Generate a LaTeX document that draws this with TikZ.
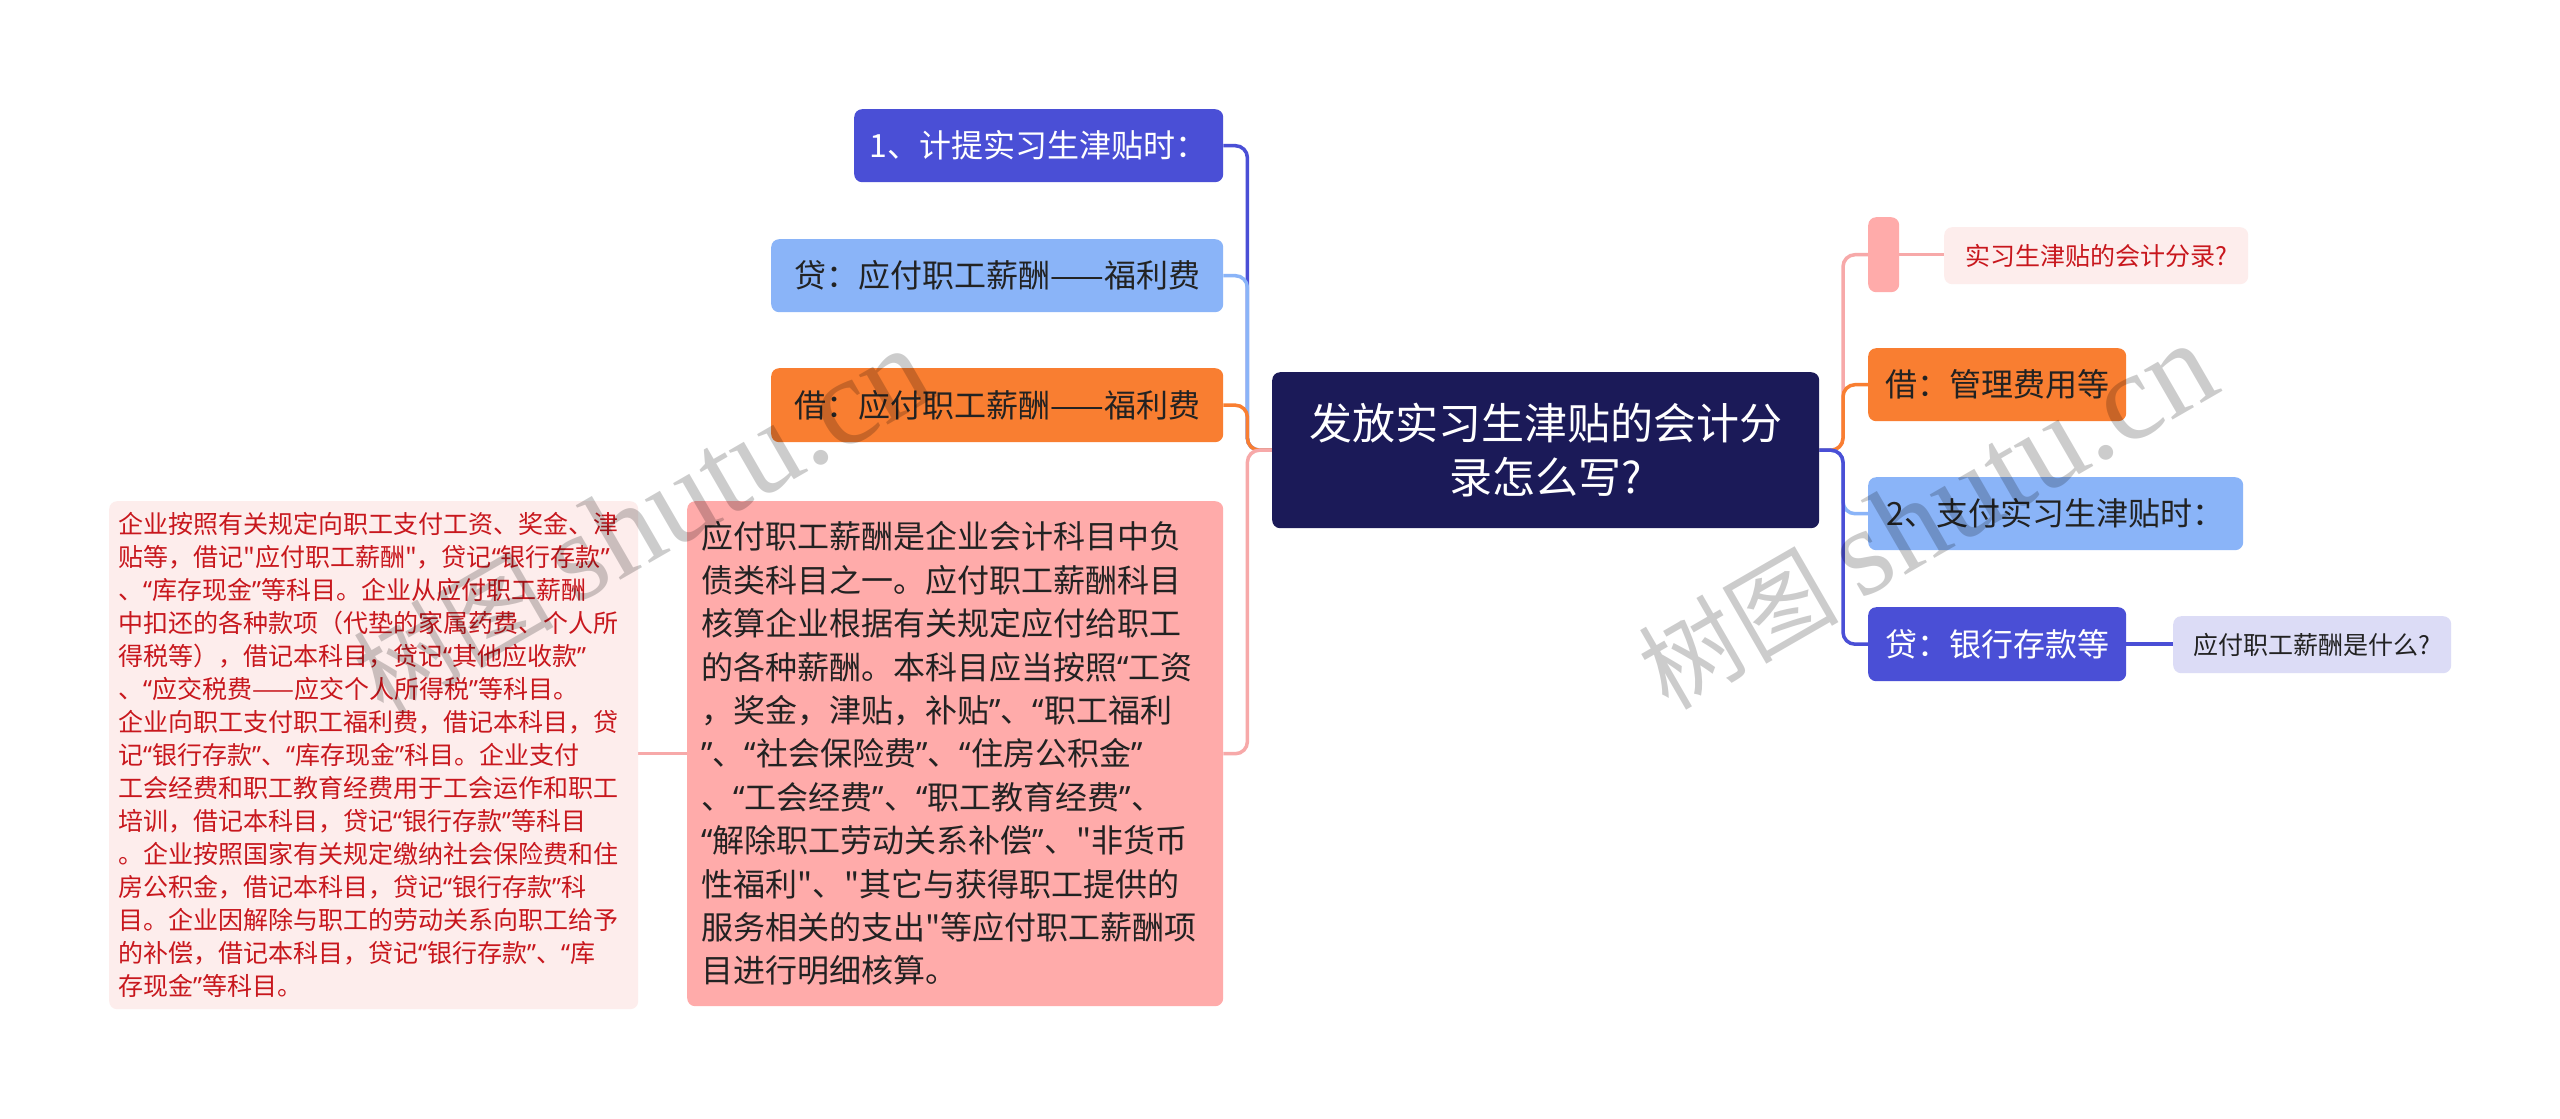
\documentclass[tikz,border=0pt]{standalone}
\usepackage{fontspec}
\setmainfont{Noto Sans CJK SC}[Ligatures=TeXOff]
\newfontfamily\wmserif{Liberation Serif}
\newfontfamily\wmcjk{Noto Sans CJK SC}
\newfontfamily\qfont{Noto Sans}[Ligatures=TeXOff]
\catcode`“=\active \def“{{\qfont\char"201C}}
\catcode`”=\active \def”{{\qfont\char"201D}}
\usetikzlibrary{calc}
\pgfdeclarelayer{bg}
\pgfsetlayers{bg,main}
\definecolor{cNavy}{HTML}{1B1A58}
\definecolor{cViolet}{HTML}{4A4FD6}
\definecolor{cLblue}{HTML}{8AB4F8}
\definecolor{cOrange}{HTML}{F97E31}
\definecolor{cPink}{HTML}{FFABAA}
\definecolor{cPinkLine}{HTML}{F7A9A9}
\definecolor{cPale}{HTML}{FDEDEC}
\definecolor{cLav}{HTML}{DCDCF6}
\definecolor{cRed}{HTML}{C8171D}
\definecolor{cDark}{HTML}{222222}
\tikzset{
  box/.style={rounded corners=8pt, inner sep=0pt, anchor=north west},
  lvA/.style={box, font=\fontsize{32}{40}\selectfont, text=cDark},
  lvB/.style={box, font=\fontsize{25}{30}\selectfont},
  conn/.style={line width=3.5pt, rounded corners=12pt},
  wm/.style={text=black, text opacity=0.2, inner sep=0pt, rotate=30}
}
\newcommand{\wmtext}{{\wmcjk\fontsize{100}{100}\selectfont 树图}\hspace{22pt}{\wmserif\fontsize{125}{125}\selectfont shutu.cn}}
\begin{document}
\begin{tikzpicture}[x=1pt,y=-1pt]
\useasboundingbox (0,0) rectangle (2560,1119);
\begin{pgfonlayer}{bg}
\fill[white] (0,0) rectangle (2560,1119);
\end{pgfonlayer}

% nodes
\node[box, fill=cNavy, text=white, font=\fontsize{43}{54}\selectfont, align=center,
      minimum width=547, minimum height=156] (C) at (1272,372) {发放实习生津贴的会计分\\录怎么写?};

\node[lvA, fill=cViolet, text=white, minimum width=369, minimum height=73] (N1) at (854,109) {1、计提实习生津贴时：};
\node[lvA, fill=cLblue, minimum width=452, minimum height=73] (N2) at (771,239) {贷：应付职工薪酬——福利费};
\node[lvA, fill=cOrange, minimum width=452, minimum height=74] (N3) at (771,368) {借：应付职工薪酬——福利费};
\node[box, fill=cPink, text=cDark, font=\fontsize{32}{43.4}\selectfont, align=left,
      text width=508, inner xsep=14, minimum height=505] (N4) at (687,501) {应付职工薪酬是企业会计科目中负\\
债类科目之一。应付职工薪酬科目\\
核算企业根据有关规定应付给职工\\
的各种薪酬。本科目应当按照“工资\\
，奖金，津贴，补贴”、“职工福利\\
”、“社会保险费”、“住房公积金”\\
、“工会经费”、“职工教育经费”、\\
“解除职工劳动关系补偿”、"非货币\\
性福利"、"其它与获得职工提供的\\
服务相关的支出"等应付职工薪酬项\\
目进行明细核算。};
\node[box, fill=cPale, text=cRed, font=\fontsize{25}{33}\selectfont, align=left,
      text width=511, inner xsep=9, minimum height=508] (N5) at (109,501) {企业按照有关规定向职工支付工资、奖金、津\\
贴等，借记"应付职工薪酬"，贷记“银行存款”\\
、“库存现金”等科目。企业从应付职工薪酬\\
中扣还的各种款项（代垫的家属药费、个人所\\
得税等），借记本科目，贷记“其他应收款”\\
、“应交税费——应交个人所得税”等科目。\\
企业向职工支付职工福利费，借记本科目，贷\\
记“银行存款”、“库存现金”科目。企业支付\\
工会经费和职工教育经费用于工会运作和职工\\
培训，借记本科目，贷记“银行存款”等科目\\
。企业按照国家有关规定缴纳社会保险费和住\\
房公积金，借记本科目，贷记“银行存款”科\\
目。企业因解除与职工的劳动关系向职工给予\\
的补偿，借记本科目，贷记“银行存款”、“库\\
存现金”等科目。};

\node[box, fill=cPink, minimum width=31, minimum height=75] (R1) at (1868,217) {};
\node[lvB, fill=cPale, text=cRed, minimum width=304, minimum height=57] (R1a) at (1944,227) {实习生津贴的会计分录?};
\node[lvA, fill=cOrange, minimum width=258, minimum height=73] (R2) at (1868,348) {借：管理费用等};
\node[lvA, fill=cLblue, minimum width=375, minimum height=73] (R3) at (1868,477) {2、支付实习生津贴时：};
\node[lvA, fill=cViolet, text=white, minimum width=258, minimum height=74] (R4) at (1868,607) {贷：银行存款等};
\node[lvB, fill=cLav, text=cDark, minimum width=278, minimum height=57] (R4a) at (2173,616) {应付职工薪酬是什么?};

% connectors
\begin{pgfonlayer}{bg}
\draw[conn, cViolet] (C.west) -| ($(N1.east)+(24,0)$) -- (N1.east);
\draw[conn, cLblue]  (C.west) -| ($(N2.east)+(24,0)$) -- (N2.east);
\draw[conn, cOrange] (C.west) -| ($(N3.east)+(24,0)$) -- (N3.east);
\draw[conn, cPinkLine] (C.west) -| ($(N4.east)+(24,0)$) -- (N4.east);
\draw[conn, cPinkLine] (N4.west) -- (N5.east |- N4.west);
\draw[conn, cPinkLine] (C.east) -| ($(R1.west)+(-25,0)$) -- (R1.west);
\draw[conn, cOrange]   (C.east) -| ($(R2.west)+(-25,0)$) -- (R2.west);
\draw[conn, cLblue]    (C.east) -| ($(R3.west)+(-25,0)$) -- (R3.west);
\draw[conn, cViolet]   (C.east) -| ($(R4.west)+(-25,0)$) -- (R4.west);
\draw[conn, cPinkLine] (R1.east) -- (R1.east -| R1a.west);
\draw[conn, cViolet]   (R4.east) -- (R4.east -| R4a.west);
\end{pgfonlayer}

% watermarks
\node[wm] (W1) at (642,522) {\wmtext};
\node[wm] (W2) at (1927,517) {\wmtext};
\end{tikzpicture}
\end{document}
